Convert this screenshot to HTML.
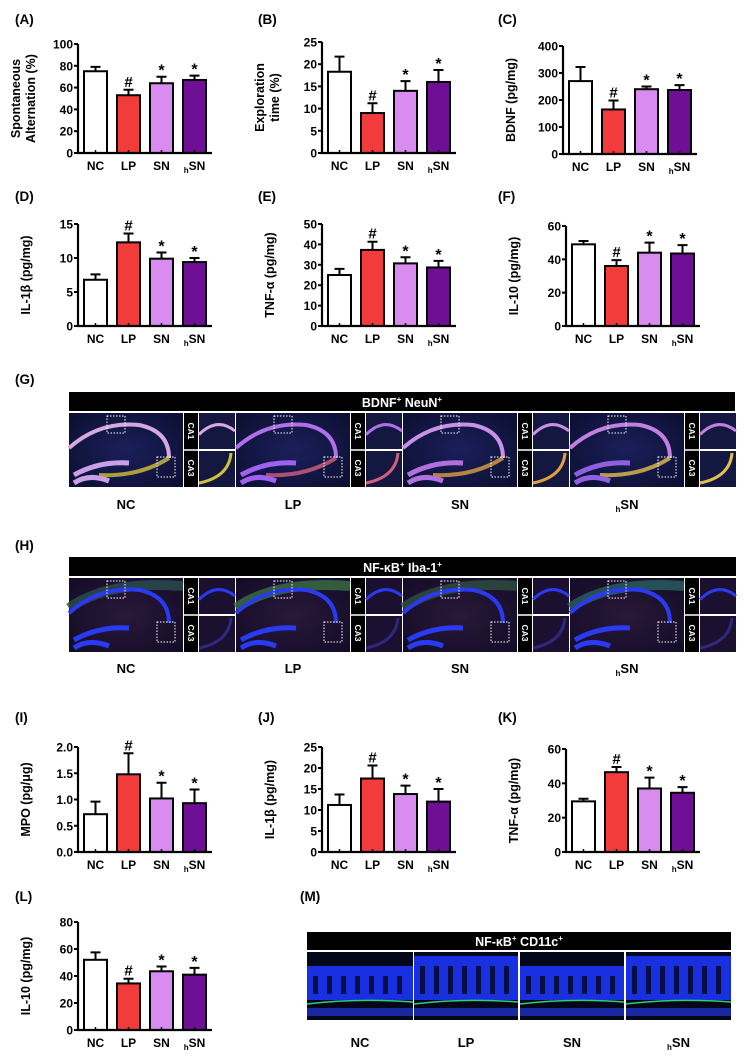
<!DOCTYPE html>
<html><head><meta charset="utf-8"><style>
html,body{margin:0;padding:0;background:#fff;}
svg{display:block;font-family:"Liberation Sans",Arial,sans-serif;font-weight:bold;}
</style></head><body>
<svg id="fig" width="744" height="1059" viewBox="0 0 744 1059" xmlns="http://www.w3.org/2000/svg">
<defs>
<radialGradient id="gBg" cx="50%" cy="50%" r="70%"><stop offset="0" stop-color="#1a1f5a"/><stop offset="1" stop-color="#0c0f30"/></radialGradient>
<radialGradient id="hBg" cx="50%" cy="50%" r="70%"><stop offset="0" stop-color="#2a1838"/><stop offset="1" stop-color="#120c28"/></radialGradient>
</defs>
<g id="charts"></g>
<g id="micro"></g>
</svg>
<script>
const cats = ["NC","LP","SN","hSN"];
const sigs = ["","#","*","*"];
const colors = ["#ffffff","#f23c3c","#d98cf0","#6e0f96"];

const valsA=[75,53,64,67], errA=[4,5,6,4], ticksA=[0,20,40,60,80,100];
const valsB=[18.3,9,14,16], errB=[3.4,2.2,2.2,2.7], ticksB=[0,5,10,15,20,25];
const valsC=[270,165,240,237], errC=[52,33,10,18], ticksC=[0,100,200,300,400];
const valsD=[6.8,12.3,9.9,9.4], errD=[0.8,1.3,0.9,0.6], ticksD=[0,5,10,15];
const valsE=[25,37.3,30.7,28.7], errE=[3,4,3,3.2], ticksE=[0,10,20,30,40,50];
const valsF=[49,36,44,43.5], errF=[2,3.5,6,5], ticksF=[0,20,40,60];
const valsI=[0.72,1.48,1.02,0.93], errI=[0.24,0.4,0.3,0.26], ticksI=[0,0.5,1.0,1.5,2.0];
const tickLblI=["0.0","0.5","1.0","1.5","2.0"];
const valsJ=[11.2,17.5,13.8,12], errJ=[2.5,3.1,2,3], ticksJ=[0,5,10,15,20,25];
const valsK=[29.5,46.5,37,34.5], errK=[1.5,3,6.3,3.3], ticksK=[0,20,40,60];
const valsL=[52,34.5,43.5,41], errL=[5.5,3.5,3.5,5], ticksL=[0,20,40,60,80];

const NS="http://www.w3.org/2000/svg";
function mk(tag,attrs,parent,text){const e=document.createElementNS(NS,tag);for(const k in attrs)e.setAttribute(k,attrs[k]);if(text!==undefined)e.textContent=text;parent.appendChild(e);return e;}

const chartsG=document.getElementById('charts');
function letter(t,x,y){const e=mk('text',{x:x,y:y,'font-size':13.5},chartsG,t);

}

function chart(name,ax,top,bot,vals,errs,ticks,tlabels,title){
  const g=mk('g',{},chartsG);
  
  
  const max=ticks[ticks.length-1];
  const y=v=>bot-v/max*(bot-top);
  const step=33,bw=23,off=6;
  vals.forEach((v,i)=>{
    const x=ax+off+i*step;
    const b=mk('rect',{x:x,y:y(v),width:bw,height:bot-y(v),fill:colors[i],stroke:'#000','stroke-width':2},g);
    
    
    const cx=x+bw/2, ye=y(v+errs[i]);
    const eb=mk('path',{d:`M${cx},${y(v)}V${ye}M${cx-5},${ye}H${cx+5}`,stroke:'#000','stroke-width':2,fill:'none'},g);
    
    
    mk('line',{x1:cx,x2:cx,y1:bot,y2:bot-3,stroke:'#000','stroke-width':1.5},g);
    if(sigs[i]){const s=mk('text',{x:cx,y:ye-(sigs[i]==='*'?1:3),'text-anchor':'middle','font-size':sigs[i]==='*'?16:15},g,sigs[i]);
      
      }
    const lx=cx;
    const lt=mk('text',{x:lx,y:bot+17,'text-anchor':'middle','font-size':12},g);
    
    
    if(cats[i]==='hSN'){mk('tspan',{'font-size':8,dy:3},lt,'h');mk('tspan',{dy:-3},lt,'SN');}
    else lt.textContent=cats[i];
  });
  mk('path',{d:`M${ax},${top}V${bot}H${ax+off+3*step+bw+6}`,stroke:'#000','stroke-width':2.2,fill:'none'},g);
  ticks.forEach((t,i)=>{
    mk('line',{x1:ax-4,x2:ax,y1:y(t),y2:y(t),stroke:'#000','stroke-width':2},g);
    const tl=mk('text',{x:ax-5,y:y(t)+4.5,'text-anchor':'end','font-size':12},g,tlabels?tlabels[i]:String(t));
    
    
  });
  const mid=(top+bot)/2;
  title.forEach((ln,k)=>{
    const xx=ax-(title.length===2?(k===0?58:43):48);
    const tt=mk('text',{x:xx,y:mid,'text-anchor':'middle','font-size':12.5,transform:`rotate(-90 ${xx} ${mid})`},g,ln);
    
    
  });
}
const LX=78,MX=322,RX=563;
letter('(A)',15,24);letter('(B)',258,24);letter('(C)',498,24);
chart('chart-a-alternation',LX,44,153,valsA,errA,ticksA,null,['Spontaneous','Alternation (%)']);
chart('chart-b-exploration',MX,42,153,valsB,errB,ticksB,null,['Exploration','time (%)']);
chart('chart-c-bdnf',RX,46,154,valsC,errC,ticksC,null,['BDNF (pg/mg)']);
letter('(D)',15,201);letter('(E)',258,201);letter('(F)',498,201);
chart('chart-d-il1b',LX,224,326,valsD,errD,ticksD,null,['IL-1β (pg/mg)']);
chart('chart-e-tnfa',MX,224,326,valsE,errE,ticksE,null,['TNF-α (pg/mg)']);
chart('chart-f-il10',RX+3,226,326,valsF,errF,ticksF,null,['IL-10 (pg/mg)']);
letter('(G)',15,384);letter('(H)',15,550);
letter('(I)',15,722);letter('(J)',258,722);letter('(K)',498,722);
chart('chart-i-mpo',LX,747,852,valsI,errI,ticksI,tickLblI,['MPO (pg/μg)']);
chart('chart-j-il1b',MX,747,852,valsJ,errJ,ticksJ,null,['IL-1β (pg/mg)']);
chart('chart-k-tnfa',RX+3,749,852,valsK,errK,ticksK,null,['TNF-α (pg/mg)']);
letter('(L)',15,901);letter('(M)',300,901);
chart('chart-l-il10',LX,922,1030,valsL,errL,ticksL,null,['IL-10 (pg/mg)']);

// micrographs
const micro=document.getElementById('micro');
function header(x1,x2,y1,y2,label,sup2,name){
  const g=mk('g',{},micro);
  
  
  mk('rect',{x:x1,y:y1,width:x2-x1,height:y2-y1,fill:'#000'},g);
  const t=mk('text',{x:(x1+x2)/2,y:y2-4,'text-anchor':'middle',fill:'#fff','font-size':12.5},g);
  mk('tspan',{},t,label[0]);mk('tspan',{'font-size':8,dy:-5},t,'+');
  mk('tspan',{dy:5},t,' '+label[1]);mk('tspan',{'font-size':8,dy:-5},t,'+');
}
const groupsX=[69,236,403,570];
const gArc=['#d6a8e0','#b070e8','#c890e8','#c080e0'];
const gDg=['#c8a0e8','#a060f0','#b070e0','#9060e0'];
const gCA3=['#d0c040','#d06080','#e0a040','#e0c050'];
const hGlow=['#2a5050','#3a7040','#305040','#2a6060'];
function hippo(y0,y1,kind,lbls){
  groupsX.forEach((x0,i)=>{
    const g=mk('g',{},micro);
    
    
    const w=114,h=y1-y0;
    mk('rect',{x:x0,y:y0,width:w,height:h,fill:kind==='g'?'url(#gBg)':'url(#hBg)'},g);
    if(kind==='h') mk('path',{d:`M${x0},${y0+30} Q${x0+40},${y0+2} ${x0+w},${y0+8}`,stroke:hGlow[i],'stroke-width':10,fill:'none',opacity:0.8},g);
    const arcC=kind==='g'?gArc[i]:'#2a3af0';
    mk('path',{d:`M${x0},${y0+35} Q${x0+30},${y0+8} ${x0+70},${y0+12} Q${x0+100},${y0+18} ${x0+100},${y0+45}`,stroke:arcC,'stroke-width':4,fill:'none'},g);
    if(kind==='g') mk('path',{d:`M${x0+30},${y0+62} Q${x0+70},${y0+64} ${x0+100},${y0+45}`,stroke:gCA3[i],'stroke-width':4,fill:'none',opacity:0.8},g);
    mk('path',{d:`M${x0+5},${y0+62} Q${x0+30},${y0+48} ${x0+60},${y0+50} M${x0+5},${y0+70} Q${x0+20},${y0+60} ${x0+40},${y0+68}`,stroke:kind==='g'?gDg[i]:'#2a3af0','stroke-width':5,fill:'none'},g);
    mk('rect',{x:x0+38,y:y0+3,width:18,height:17,fill:'none',stroke:'#fff','stroke-width':1,'stroke-dasharray':'1.5,1.5'},g);
    mk('rect',{x:x0+88,y:y0+44,width:18,height:20,fill:'none',stroke:'#fff','stroke-width':1,'stroke-dasharray':'1.5,1.5'},g);
    // label strip
    const sx=x0+115, ix=x0+130, iw=36, hh=(h-2)/2;
    mk('rect',{x:sx,y:y0,width:14,height:h,fill:'#000'},g);
    mk('line',{x1:sx,x2:sx+14,y1:y0+hh+1,y2:y0+hh+1,stroke:'#fff','stroke-width':1.5},g);
    [['CA1',y0+hh/2],['CA3',y0+hh+1+hh/2]].forEach(([t,cy])=>{
      mk('text',{x:sx+7,y:cy,'text-anchor':'middle','dominant-baseline':'central',fill:'#fff','font-size':8.5,transform:`rotate(90 ${sx+7} ${cy})`},g,t);
    });
    mk('rect',{x:ix,y:y0,width:iw,height:hh,fill:kind==='g'?'#141840':'#1c1030'},g);
    mk('rect',{x:ix,y:y0+hh+2,width:iw,height:hh,fill:kind==='g'?'#141840':'#1c1030'},g);
    mk('path',{d:`M${ix},${y0+hh*0.6} Q${ix+18},${y0+hh*0.1} ${ix+iw},${y0+hh*0.5}`,stroke:kind==='g'?gArc[i]:'#2a3af0','stroke-width':3,fill:'none'},g);
    mk('path',{d:`M${ix},${y0+h-4} Q${ix+30},${y0+h-10} ${ix+iw-4},${y0+hh+4}`,stroke:kind==='g'?gCA3[i]:'#302880','stroke-width':3,fill:'none'},g);
    const lt=mk('text',{x:x0+57,y:lbls,'text-anchor':'middle','font-size':13},g);
    if(cats[i]==='hSN'){mk('tspan',{'font-size':8,dy:3},lt,'h');mk('tspan',{dy:-3},lt,'SN');}
    else lt.textContent=cats[i];
  });
}
header(69,735,392,411,['BDNF','NeuN'],1,'bdnf-neun-header');
hippo(413,487,'g',509);
header(69,736,557,576,['NF-κB','Iba-1'],1,'nfkb-iba1-header');
hippo(578,652,'h',673);

header(307,731,932,950,['NF-κB','CD11c'],1,'nfkb-cd11c-header');
const mX=[307,414,520,626], mW=[106,104,104,105];
mX.forEach((x0,i)=>{
  const g=mk('g',{},micro);
  
  
  const y0=952,h=68;
  mk('rect',{x:x0,y:y0,width:mW[i],height:h,fill:'#04061a'},g);
  mk('rect',{x:x0,y:y0+(i%2?4:14),width:mW[i],height:h-(i%2?24:34),fill:'#1830e0'},g);
  for(let k=0;k<7;k++){mk('rect',{x:x0+6+k*14,y:y0+(i%2?14:24),width:5,height:i%2?28:18,fill:'#05081e',opacity:0.8},g);}
  mk('path',{d:`M${x0},${y0+52} Q${x0+50},${y0+46} ${x0+mW[i]},${y0+50}`,stroke:'#30d070','stroke-width':1.5,fill:'none'},g);
  mk('rect',{x:x0,y:y0+56,width:mW[i],height:8,fill:'#1828a0'},g);
  const lt=mk('text',{x:x0+mW[i]/2,y:1047,'text-anchor':'middle','font-size':13},g);
  if(cats[i]==='hSN'){mk('tspan',{'font-size':8,dy:3},lt,'h');mk('tspan',{dy:-3},lt,'SN');}
  else lt.textContent=cats[i];
});
</script>
</body></html>
